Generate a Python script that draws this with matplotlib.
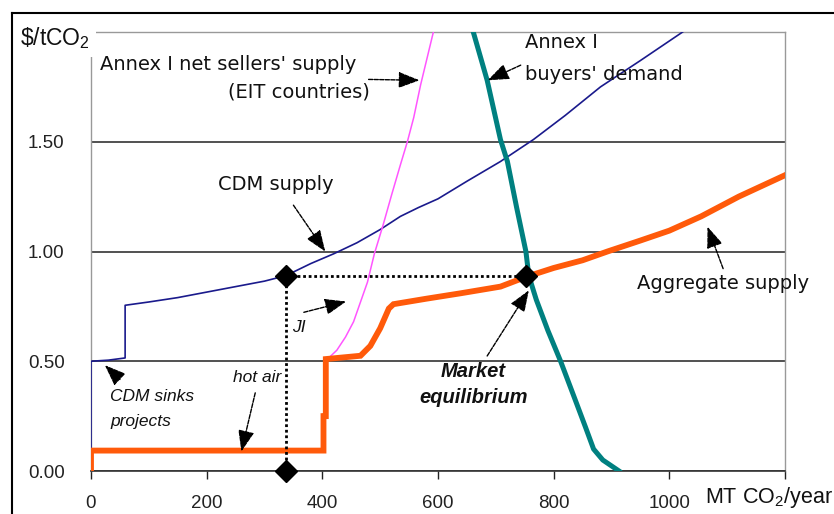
import matplotlib
matplotlib.use('Agg')
import matplotlib.pyplot as plt
from matplotlib.lines import Line2D
from matplotlib.patches import Rectangle

plt.rcParams['font.family'] = ['Liberation Sans', 'DejaVu Sans']
plt.rcParams['mathtext.default'] = 'regular'

# ── Data ──────────────────────────────────────────────────────────────────────
cdm_x = [0, 0, 30, 59, 59, 100, 150, 200, 250, 300, 337, 380, 420, 460, 500,
         535, 566, 600, 650, 708, 765, 820, 881, 950, 1023]
cdm_y = [0, 0.50, 0.505, 0.515, 0.755, 0.77, 0.79, 0.815, 0.84, 0.865, 0.89,
         0.945, 0.99, 1.04, 1.10, 1.16, 1.20, 1.24, 1.32, 1.41, 1.51, 1.62,
         1.75, 1.87, 2.00]

eit_x = [405, 425, 440, 454, 466, 478, 490, 505, 520, 535, 547, 558, 570, 592]
eit_y = [0.50, 0.55, 0.61, 0.68, 0.77, 0.86, 0.99, 1.12, 1.26, 1.395, 1.50,
         1.61, 1.76, 2.00]

agg_x = [0, 0, 402, 402, 406, 406, 466, 483, 500, 515, 523, 580, 640, 708,
         753, 800, 850, 893, 950, 1000, 1055, 1120, 1202]
agg_y = [0, 0.093, 0.093, 0.25, 0.25, 0.51, 0.525, 0.57, 0.65, 0.74, 0.76,
         0.785, 0.81, 0.84, 0.885, 0.925, 0.96, 1.00, 1.05, 1.095, 1.16, 1.25,
         1.35]

dem_x = [661, 685, 708, 720, 736, 752, 757, 770, 790, 812, 835, 855, 869, 885, 913]
dem_y = [2.0, 1.78, 1.51, 1.41, 1.20, 1.0, 0.89, 0.78, 0.64, 0.50, 0.34, 0.20,
         0.10, 0.05, 0.0]

# equilibrium point and its projections
eq_x = [337, 753, 337]
eq_y = [0.89, 0.89, 0.0]

x_ticks = [0, 200, 400, 600, 800, 1000, 1200]
x_labels = ['0', '200', '400', '600', '800', '1000', '']
y_ticks = [0, 0.5, 1.0, 1.5]
y_labels = ['0.00', '0.50', '1.00', '1.50']

# ── Figure ────────────────────────────────────────────────────────────────────
fig = plt.figure(figsize=(8.34, 5.14), dpi=100)
ax = fig.add_axes([91 / 834, 1 - 471 / 514, 694 / 834, 439 / 514])
ax.set_xlim(0, 1200)
ax.set_ylim(0, 2.0)

ax.set_yticks(y_ticks)
ax.set_yticklabels(y_labels)
ax.set_xticks(x_ticks)
ax.set_xticklabels(x_labels)
ax.tick_params(axis='y', length=0, pad=19, labelsize=13.5, colors='#222222')
ax.tick_params(axis='x', length=6, width=1, direction='out', pad=11,
               labelsize=13.5, colors='#222222')
ax.grid(axis='y', color='#222222', lw=1.1)
ax.set_axisbelow(True)

for side in ['top', 'right', 'left']:
    ax.spines[side].set_color('#999999')
    ax.spines[side].set_linewidth(1.0)
ax.spines['bottom'].set_color('#333333')
ax.spines['bottom'].set_linewidth(1.2)

# ── Curves ────────────────────────────────────────────────────────────────────
ax.plot(cdm_x, cdm_y, color='#1a1a8c', lw=1.2, zorder=3)
ax.plot(eit_x, eit_y, color='#ff55ff', lw=1.1, zorder=3)
ax.plot(agg_x, agg_y, color='#ff5a0a', lw=4.2, zorder=4, solid_joinstyle='miter')
ax.plot(dem_x, dem_y, color='#008080', lw=3.6, zorder=5)

# dotted projection lines + diamonds
ax.plot([eq_x[0], eq_x[1]], [eq_y[0], eq_y[1]], color='k', lw=2,
        linestyle=(0, (1, 1)), zorder=6)
ax.plot([eq_x[2], eq_x[0]], [eq_y[2], eq_y[0]], color='k', lw=2,
        linestyle=(0, (1, 1)), zorder=6)
ax.plot(eq_x, eq_y, 'D', ms=11, color='k', zorder=7, clip_on=False)

# ── Annotations ───────────────────────────────────────────────────────────────
arrow_kw = dict(arrowstyle='-|>,head_length=1.3,head_width=0.5',
                color='k', lw=1.0, mutation_scale=10,
                shrinkA=0, shrinkB=0, linestyle=(0, (3, 1)))

arrows = [
    ((480, 1.784), (568, 1.78)),    # EIT
    ((350, 1.211), (405, 1.0)),     # CDM supply
    ((743, 1.849), (686, 1.78)),    # demand
    ((1093, 0.922), (1066, 1.113)), # aggregate
    ((685, 0.524), (757, 0.823)),   # market eq
    ((368, 0.723), (441, 0.772)),   # JI
    ((284, 0.356), (260, 0.089)),   # hot air
    ((50, 0.417), (24, 0.482)),     # CDM sinks
]
for tail, head in arrows:
    ax.annotate('', xy=head, xytext=tail, arrowprops=arrow_kw,
                annotation_clip=False, zorder=8)

lab = dict(fontsize=14, family='DejaVu Sans', color='#111111', zorder=9)
ax.text(16, 1.85, "Annex I net sellers' supply", ha='left', va='center', **lab)
ax.text(483, 1.725, "(EIT countries)", ha='right', va='center', **lab)
ax.text(320, 1.303, "CDM supply", ha='center', va='center', **lab)
ax.text(751, 1.95, "Annex I", ha='left', va='center', **lab)
ax.text(751, 1.807, "buyers' demand", ha='left', va='center', **lab)
ax.text(944, 0.853, "Aggregate supply", ha='left', va='center', clip_on=False, **lab)

ital = dict(fontsize=12.5, style='italic', color='#111111', zorder=9)
ax.text(359, 0.655, "JI", ha='center', va='center', **ital)
ax.text(287, 0.425, "hot air", ha='center', va='center', **ital)
ax.text(33, 0.341, "CDM sinks", ha='left', va='center', **ital)
ax.text(33, 0.226, "projects", ha='left', va='center', **ital)

bold_it = dict(fontsize=14.5, style='italic', fontweight='bold', color='#111111', zorder=9)
ax.text(661, 0.455, "Market", ha='center', va='center', **bold_it)
ax.text(661, 0.333, "equilibrium", ha='center', va='center', **bold_it)

# ── Axis titles ───────────────────────────────────────────────────────────────
fig.add_artist(Rectangle((14 / 834, 1 - 57 / 514), 82 / 834, 40 / 514,
                         transform=fig.transFigure, facecolor='white',
                         edgecolor='none', zorder=2.5))
fig.text(20 / 834, 1 - 38 / 514, r'\$/tCO$_2$', ha='left', va='center',
         fontsize=16.5, color='#111111', zorder=3)
fig.text(705 / 834, 1 - 497 / 514, r'MT CO$_2$/year', ha='left', va='center',
         fontsize=15.5, color='#111111', zorder=3)

# ── Outer frame ───────────────────────────────────────────────────────────────
fig.add_artist(Line2D([12 / 834, 12 / 834], [0, 1 - 13 / 514], color='k',
                      lw=1.5, transform=fig.transFigure))
fig.add_artist(Line2D([12 / 834, 1], [1 - 13 / 514, 1 - 13 / 514], color='k',
                      lw=1.5, transform=fig.transFigure))

fig.savefig('out.png', dpi=100, facecolor='white')
